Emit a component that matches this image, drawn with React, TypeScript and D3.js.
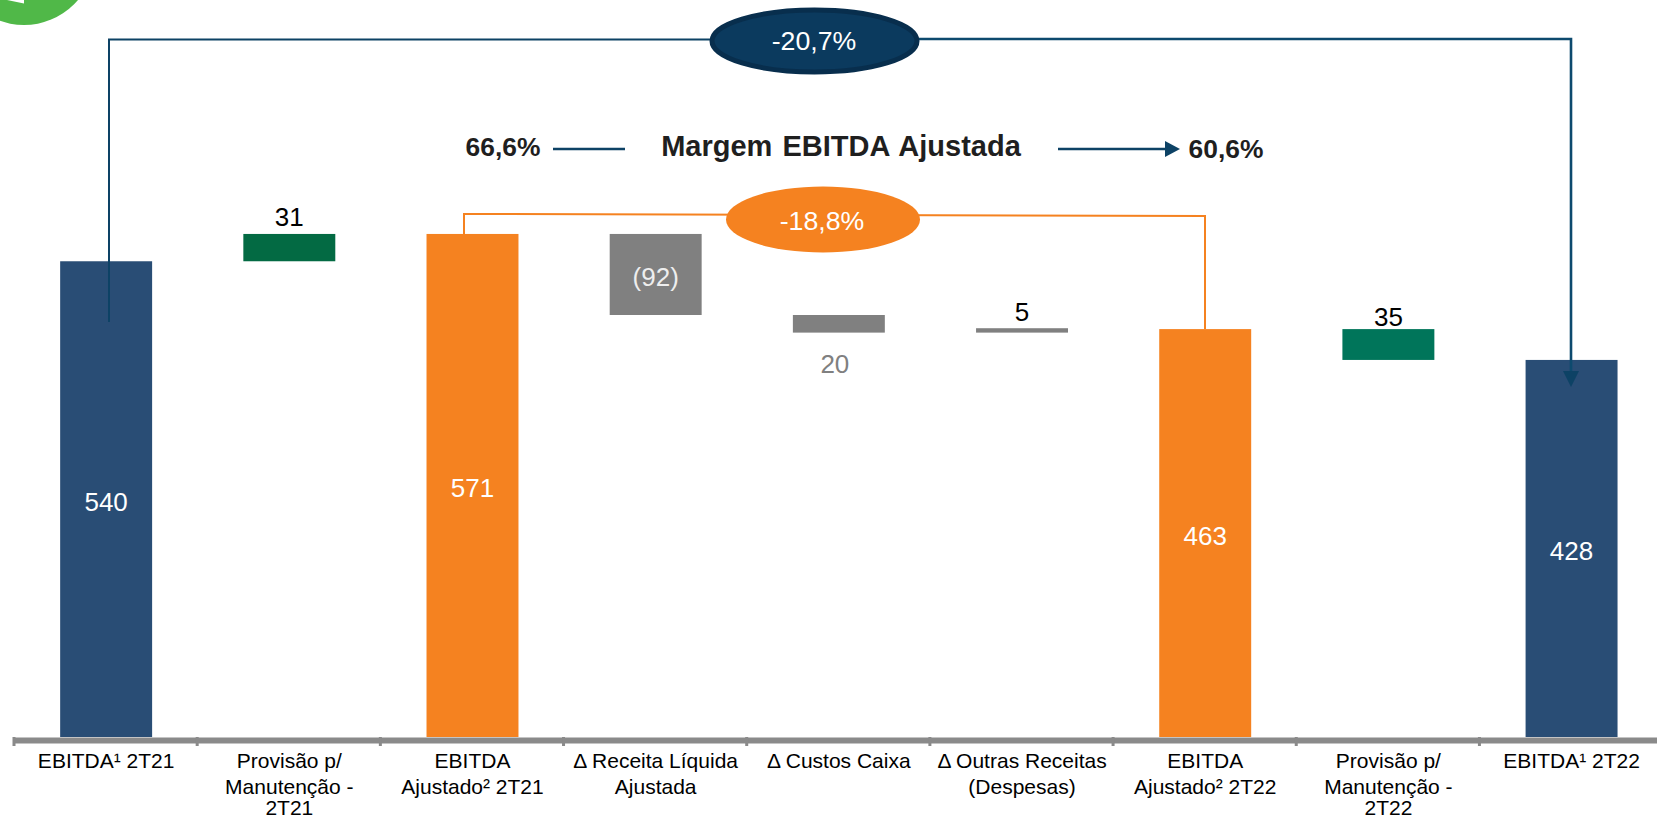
import React, { useEffect, useRef } from 'react';
import * as d3 from 'd3';

const categories = [
  'EBITDA¹ 2T21',
  'Provisão p/\nManutenção -\n2T21',
  'EBITDA\nAjustado² 2T21',
  'Δ Receita Líquida\nAjustada',
  'Δ Custos Caixa',
  'Δ Outras Receitas\n(Despesas)',
  'EBITDA\nAjustado² 2T22',
  'Provisão p/\nManutenção -\n2T22',
  'EBITDA¹ 2T22',
];
const values = [540, 31, 571, -92, -20, 5, 463, -35, 428];
const isTotal = [true, false, true, false, false, false, true, false, true];
const valueLabels = ['540', '31', '571', '(92)', '20', '5', '463', '35', '428'];
const barColors = ['#294d75', '#036a43', '#f58220', '#808080', '#808080', '#808080', '#f58220', '#00755a', '#294d75'];
const labelColors = ['#fff', '#000', '#fff', '#eee', '#808080', '#000', '#fff', '#000', '#fff'];
const labelPlaces = ['mid', 'above', 'mid', 'mid', 'below', 'above', 'mid', 'above', 'mid'];

const marginStart = '66,6%';
const marginEnd = '60,6%';
const marginTitle = 'Margem EBITDA Ajustada';
const totalChange = '-20,7%';
const adjustedChange = '-18,8%';

const width = 1657;
const height = 819;
const FONT = '"Liberation Sans", Arial, sans-serif';
const NAVY = '#0d4265';
const ORANGE = '#f58220';

const App = () => {
  const ref = useRef<SVGSVGElement>(null);

  useEffect(() => {
    if (!ref.current) return;
    const svg = d3.select(ref.current);
    svg.selectAll('*').remove();

    const step = 183.3;
    const x = d3.scaleBand<string>()
      .domain(categories)
      .range([14, 14 + step * categories.length])
      .paddingInner(0.498)
      .paddingOuter(0.252);
    const y = d3.scaleLinear().domain([0, 600]).range([737, 208.4]);

    // running total for the floating bars
    let running = 0;
    const bars = categories.map((c, i) => {
      const from = isTotal[i] ? 0 : running;
      const to = isTotal[i] ? values[i] : running + values[i];
      running = to;
      return { c, i, lo: Math.min(from, to), hi: Math.max(from, to) };
    });

    // green badge cut by the top of the page
    svg.append('circle').attr('cx', 24).attr('cy', -45.8).attr('r', 70.8).attr('fill', '#50b848');
    svg.append('path').attr('d', 'M7 0 L24 3.5 L24 0 Z').attr('fill', '#fff');

    svg.append('g').selectAll('rect').data(bars).join('rect')
      .attr('x', d => x(d.c)!)
      .attr('width', x.bandwidth())
      .attr('y', d => y(d.hi))
      .attr('height', d => y(d.lo) - y(d.hi))
      .attr('fill', d => barColors[d.i]);

    // axis: thick grey domain, ticks on the band edges, wrapped labels
    const lineOffsets = [28, 53.5, 74.5];
    const axis = svg.append('g')
      .attr('transform', 'translate(0,740)')
      .call(d3.axisBottom(x).tickSize(0).tickPadding(0));
    axis.select('.domain').attr('stroke', '#8a8a8a').attr('stroke-width', 6);
    axis.selectAll<SVGTextElement, string>('.tick text').each(function (d) {
      const t = d3.select(this).attr('y', 0).attr('dy', null).text(null)
        .attr('font-family', FONT).attr('font-size', 21).attr('fill', '#000');
      d.split('\n').forEach((line, k) => {
        t.append('tspan').attr('x', 0).attr('y', lineOffsets[k]).text(line);
      });
    });
    categories.forEach((_, i) => {
      svg.append('rect')
        .attr('x', x.range()[0] + i * x.step() - 1.5)
        .attr('y', 737).attr('width', 3).attr('height', 9)
        .attr('fill', '#8a8a8a');
    });

    // value labels
    const aboveGap: Record<number, number> = { 1: 8, 5: 7.5, 7: 3 };
    const labelY = (d: typeof bars[number]) => {
      const place = labelPlaces[d.i];
      if (place === 'above') return y(d.hi) - aboveGap[d.i];
      if (place === 'below') return y(d.lo) + 40;
      return (y(d.lo) + y(d.hi)) / 2 + 12;
    };
    svg.append('g').selectAll('text').data(bars).join('text')
      .attr('x', d => x(d.c)! + x.bandwidth() / 2 + (d.i === 4 ? -4 : 0))
      .attr('y', labelY)
      .attr('text-anchor', 'middle')
      .attr('font-family', FONT)
      .attr('font-size', 26)
      .attr('fill', d => labelColors[d.i])
      .text(d => valueLabels[d.i]);

    const line = d3.line();

    // total change bracket, the right leg is drawn heavier
    svg.append('path')
      .attr('d', line([[109, 322], [109, 39.5], [814, 39.5]]))
      .attr('fill', 'none').attr('stroke', NAVY).attr('stroke-width', 2);
    svg.append('path')
      .attr('d', line([[814, 39], [1571, 39], [1571, 375]]))
      .attr('fill', 'none').attr('stroke', '#0d4a6e').attr('stroke-width', 2.6);
    svg.append('path').attr('d', line([[1563, 371], [1579, 371], [1571, 387]]))
      .attr('fill', NAVY);
    svg.append('ellipse')
      .attr('cx', 814.5).attr('cy', 41).attr('rx', 102.5).attr('ry', 31)
      .attr('fill', '#0b3a5e').attr('stroke', '#082e4d').attr('stroke-width', 5);
    svg.append('text').attr('x', 814).attr('y', 50).attr('text-anchor', 'middle')
      .attr('font-family', FONT).attr('font-size', 26.7).attr('fill', '#fff').text(totalChange);

    // adjusted change bracket
    svg.append('path')
      .attr('d', line([[464, y(571)], [464, 214], [1205, 216], [1205, y(463)]]))
      .attr('fill', 'none').attr('stroke', ORANGE).attr('stroke-width', 2);
    svg.append('ellipse')
      .attr('cx', 823).attr('cy', 219.5).attr('rx', 97).attr('ry', 33).attr('fill', ORANGE);
    svg.append('text').attr('x', 822).attr('y', 230).attr('text-anchor', 'middle')
      .attr('font-family', FONT).attr('font-size', 26.7).attr('fill', '#fff').text(adjustedChange);

    // margin row
    svg.append('path').attr('d', line([[553, 149], [625, 149]]))
      .attr('stroke', NAVY).attr('stroke-width', 2.5);
    svg.append('path').attr('d', line([[1058, 149], [1170, 149]]))
      .attr('stroke', NAVY).attr('stroke-width', 2.5);
    svg.append('path').attr('d', line([[1165, 141], [1180, 149], [1165, 157]]))
      .attr('fill', NAVY);
    const bold = (tx: number, ty: number, size: number, s: string) =>
      svg.append('text').attr('x', tx).attr('y', ty).attr('text-anchor', 'middle')
        .attr('font-family', FONT).attr('font-weight', 700).attr('font-size', size)
        .attr('fill', '#1f1f1f').text(s);
    bold(503, 156, 26.4, marginStart);
    bold(841, 156, 29, marginTitle).attr('word-spacing', 2);
    bold(1226, 158, 26.4, marginEnd);
  }, []);

  return (
    <svg
      ref={ref}
      width={width}
      height={height}
      style={{ position: 'absolute', left: 0, top: 0, display: 'block', background: '#fff' }}
    />
  );
};

export default App;
